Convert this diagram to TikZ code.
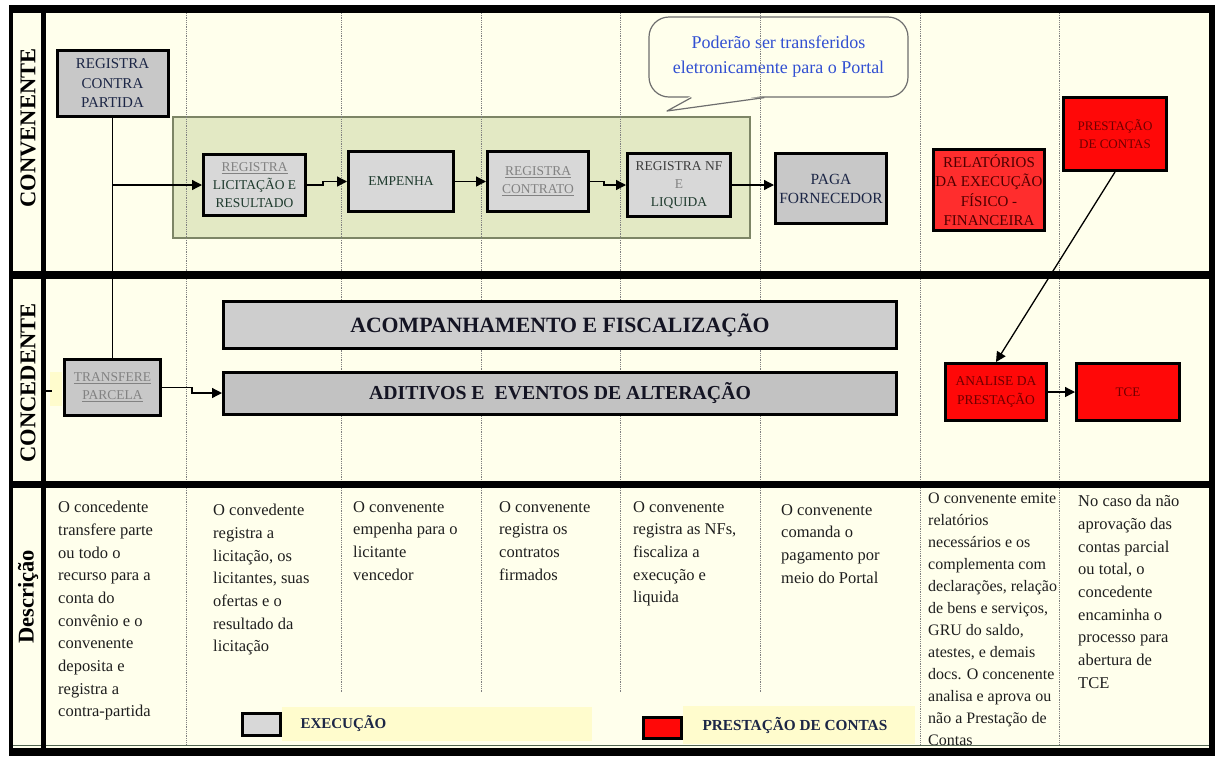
\documentclass[tikz,border=0pt]{standalone}
\usepackage{fontspec}
\setmainfont{Liberation Serif}
\usepackage{tikz}
\usetikzlibrary{arrows.meta,positioning}

\newcommand{\setfs}[2]{\fontsize{#1}{#2}\selectfont}

\definecolor{cream}{RGB}{255,255,236}
\definecolor{greenzone}{RGB}{227,233,196}
\definecolor{greenedge}{RGB}{125,133,102}
\definecolor{boxgray}{RGB}{216,216,216}
\definecolor{boxdark}{RGB}{200,200,200}
\definecolor{barone}{RGB}{206,206,206}
\definecolor{bartwo}{RGB}{194,194,194}
\definecolor{prestred}{RGB}{255,8,8}
\definecolor{relred}{RGB}{255,45,45}
\definecolor{prestxt}{RGB}{110,0,0}
\definecolor{regray}{RGB}{130,130,130}
\definecolor{nfgray}{RGB}{60,60,60}
\definecolor{dkgreen}{RGB}{30,58,45}
\definecolor{navy}{RGB}{28,38,70}
\definecolor{bubblue}{RGB}{50,80,210}
\definecolor{bubedge}{RGB}{110,110,110}
\definecolor{paleyel}{RGB}{255,252,205}
\definecolor{desctxt}{RGB}{30,30,30}
\definecolor{bottomline}{RGB}{80,100,80}

\tikzset{
    %Define standard arrow tip
    >={Triangle[length=10pt,width=10pt]},
    %Define style for boxes
    execbox/.style={
           rectangle,
           draw=black, line width=3pt,
           fill=boxgray,
           inner sep=0pt,
           align=center,
           text=dkgreen,
           font=\setfs{13.5}{18}},
    darkbox/.style={
           execbox,
           fill=boxdark},
    prestbox/.style={
           rectangle,
           draw=black, line width=3pt,
           fill=prestred,
           inner sep=0pt,
           align=center,
           text=prestxt,
           font=\setfs{13}{19}},
    bar/.style={
           rectangle,
           draw=black, line width=3pt,
           inner sep=0pt,
           text={rgb,255:red,20;green,20;blue,35},
           minimum width=673pt},
    bubble/.style={
           rectangle,
           rounded corners=20pt,
           draw=bubedge, line width=1.2pt,
           fill=cream,
           align=center,
           text=bubblue,
           font=\setfs{18}{25}},
    desc/.style={
           anchor=north west,
           inner sep=0pt,
           align=left,
           text=desctxt,
           font=\setfs{16.5}{22.7}},
    lane/.style={
           rotate=90,
           inner sep=0pt,
           font=\bfseries\setfs{22.5}{22.5}},
    legend/.style={
           fill=paleyel,
           inner sep=0pt,
           anchor=west},
    % Define arrow style
    pil/.style={
           ->,
           line width=1.3pt},
    tie/.style={
           line width=1.3pt},
    colline/.style={
           densely dotted,
           line width=0.8pt,
           color=gray}
}

\begin{document}
\begin{tikzpicture}[x=1pt,y=-1pt]
\useasboundingbox (0,0) rectangle (1215,756);
% background
\fill[cream] (11,9) rectangle (1211,752);
\draw[greenedge, line width=1.5pt, fill=greenzone] (173,117) rectangle (750,238);
\fill[paleyel] (50,372) rectangle (62,406);

% callout
\node[bubble, minimum width=259pt, minimum height=80pt] (bub) at (778.5,57)
   {Poderão ser transferidos\\eletronicamente para o Portal};
\coordinate (tip) at (667,111);
\fill[cream] ([xshift=43pt,yshift=2pt]bub.south west) -- (tip) -- ([xshift=116pt,yshift=2pt]bub.south west) -- cycle;
\draw[bubedge, line width=1.2pt, line join=round] ([xshift=43pt]bub.south west) -- (tip) -- ([xshift=116pt]bub.south west);

% column separators
\foreach \cx in {186,341,481,620,760,920,1059}
  \draw[colline] (\cx,13) -- (\cx,481);
\foreach \cx in {186,920,1059}
  \draw[colline] (\cx,488) -- (\cx,745);
\foreach \cx in {341,481,620,760}
  \draw[colline] (\cx,488) -- (\cx,692);

% convenente
\node[darkbox, minimum width=111pt, minimum height=66pt, text=navy, font=\setfs{15}{19.5}] (rcp) at (112.5,83.5) {REGISTRA\\CONTRA\\PARTIDA};
\node[execbox, minimum width=102pt, minimum height=61pt] (lic) at (254.5,185) {{\color{regray}\underline{REGISTRA}}\\LICITAÇÃO E\\RESULTADO};
\node[execbox, minimum width=105pt, minimum height=60pt] (emp) at (401,181.5) {EMPENHA};
\node[execbox, minimum width=101pt, minimum height=60pt, text=regray] (ctr) at (538,181.5) {\underline{REGISTRA}\\\underline{CONTRATO}};
\node[execbox, minimum width=103pt, minimum height=63pt] (nf) at (679,185) {{\color{nfgray}REGISTRA NF}\\{\color{regray}E}\\LIQUIDA};
\node[darkbox, minimum width=111pt, minimum height=70pt, text=navy, font=\setfs{15.5}{19}] (paga) at (831,188.5) {PAGA\\FORNECEDOR};
\node[prestbox, fill=relred, minimum width=111pt, minimum height=81pt, font=\setfs{15}{19.5}, text={rgb,255:red,80;green,0;blue,0}] (rel) at (989,190) {RELATÓRIOS\\DA EXECUÇÃO\\FÍSICO -\\FINANCEIRA};
\node[prestbox, minimum width=103pt, minimum height=73pt, font=\setfs{13}{18}] (prest) at (1115,134) {PRESTAÇÃO\\DE CONTAS};

% concedente
\node[darkbox, minimum width=96pt, minimum height=56pt, text=regray] (trans) at (112.5,387.5) {\underline{TRANSFERE}\\\underline{PARCELA}};
\node[bar, fill=barone, minimum height=47pt, font=\bfseries\setfs{21.8}{22}] (acomp) at (560,325) {ACOMPANHAMENTO E FISCALIZAÇÃO};
\node[bar, fill=bartwo, minimum height=42pt, font=\bfseries\setfs{19.8}{20}] (adit) at (560,393) {ADITIVOS E\ \ EVENTOS DE ALTERAÇÃO};
\node[prestbox, minimum width=101pt, minimum height=57pt, font=\setfs{13.5}{19}] (anal) at (996,392) {ANALISE DA\\PRESTAÇÃO};
\node[prestbox, minimum width=103pt, minimum height=57pt, right=27pt of anal] (tce) {TCE};

% connectors
\coordinate (split) at (rcp.south |- lic.west);
\coordinate (stubL) at (44,391);
\coordinate (stubR) at (52,391);
\draw[tie] (rcp.south) -- (trans.north);
\draw[tie] (stubL) -- (stubR);
\draw[pil] (split) -- (lic.west);
\draw[pil] (lic.east) -- ++(16,0) |- (emp.west);
\draw[pil] (emp.east) -- (ctr.west);
\draw[pil] (ctr.east) -- ++(14,0) |- (nf.west);
\draw[pil] (nf.east) -- (nf.east -| paga.west);
\draw[pil] (trans.east) -- ++(30,0) |- (adit.west);
\draw[pil] (prest.south) -- (anal.north);
\draw[pil] (anal.east) -- (tce.west);

% descricao
\node[desc] (d1) at (58,501) {O concedente\\transfere parte\\ou todo o\\recurso para a\\conta do\\convênio e o\\convenente\\deposita e\\registra a\\contra-partida};
\node[desc] (d2) at (213,504) {O convedente\\registra a\\licitação, os\\licitantes, suas\\ofertas e o\\resultado da\\licitação};
\node[desc] (d3) at (353,501) {O convenente\\empenha para o\\licitante\\vencedor};
\node[desc] (d4) at (499,501) {O convenente\\registra os\\contratos\\firmados};
\node[desc] (d5) at (633,501) {O convenente\\registra as NFs,\\fiscaliza a\\execução e\\liquida};
\node[desc] (d6) at (781,504) {O convenente\\comanda o\\pagamento por\\meio do Portal};
\node[desc, font=\setfs{16}{22}] (d7) at (928,493) {O convenente emite\\relatórios\\necessários e os\\complementa com\\declarações, relação\\de bens e serviços,\\GRU do saldo,\\atestes, e demais\\docs. O concenente\\analisa e aprova ou\\não a Prestação de\\Contas};
\node[desc] (d8) at (1078,495) {No caso da não\\aprovação das\\contas parcial\\ou total, o\\concedente\\encaminha o\\processo para\\abertura de\\TCE};

% legenda
\node[legend, minimum width=310pt, minimum height=34pt] (legexec) at (282,724) {};
\node[anchor=west, text=navy, font=\bfseries\setfs{15}{15}] (legexectxt) at ([xshift=15pt]legexec.west) {EXECUÇÃO};
\node[execbox, minimum width=38pt, minimum height=22pt, anchor=east] (swexec) at (legexec.west) {};
\node[legend, minimum width=232pt, minimum height=38pt] (legprest) at (683,725) {};
\node[anchor=west, text=navy, font=\bfseries\setfs{15.3}{15}] (legpresttxt) at ([xshift=16pt]legprest.west) {PRESTAÇÃO DE CONTAS};
\node[prestbox, minimum width=38pt, minimum height=21pt, anchor=east] (swprest) at ([yshift=-3pt]legprest.west) {};

% raias
\node[lane] (lconv) at (28,128) {CONVENENTE};
\node[lane] (lconc) at (28,383) {CONCEDENTE};
\node[lane] (ldesc) at (28,597) {Descrição};

% moldura
\draw[bottomline, line width=1.5pt] (13,745.5) -- (1209,745.5);
\fill[black] (9,5) rectangle (1215,13);
\fill[black] (1209,5) rectangle (1215,756);
\fill[black] (9,748) rectangle (1215,756);
\fill[black] (9,5) rectangle (13,756);
\fill[black] (41,5) rectangle (46,756);
\fill[black] (11,271) rectangle (1211,279);
\fill[black] (11,481) rectangle (1211,488);
\end{tikzpicture}
\end{document}
